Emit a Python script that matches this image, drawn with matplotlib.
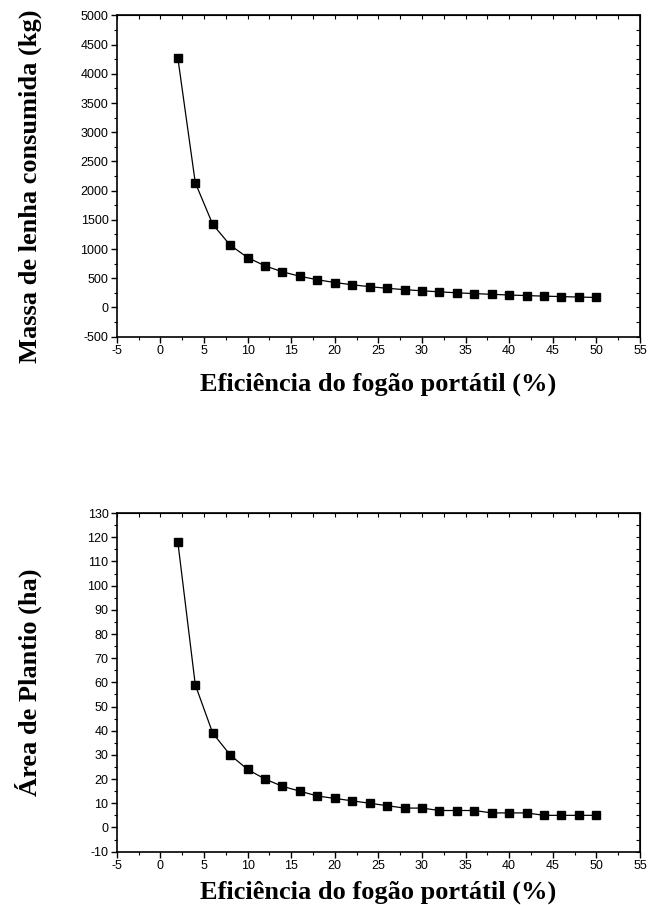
# Massa de lenha e area de plantio vs eficiencia do fogao portatil
import matplotlib
matplotlib.use("Agg")
import matplotlib.pyplot as plt
from matplotlib.ticker import MultipleLocator

plt.rcParams["axes.unicode_minus"] = False

eficiencia = [2, 4, 6, 8, 10, 12, 14, 16, 18, 20, 22, 24, 26, 28, 30,
              32, 34, 36, 38, 40, 42, 44, 46, 48, 50]
massa_lenha = [4270, 2135, 1423, 1067, 854, 712, 610, 534, 474, 427, 388, 356, 328,
               305, 285, 267, 251, 237, 225, 213, 203, 194, 186, 178, 171]
area_plantio = [118, 59, 39, 30, 24, 20, 17, 15, 13, 12, 11, 10, 9,
                8, 8, 7, 7, 7, 6, 6, 6, 5, 5, 5, 5]

xlabel = "Eficiência do fogão portátil (%)"

tick_font = "Liberation Sans"
label_font = {"family": "Liberation Serif", "weight": "bold", "size": 19}

fig = plt.figure(figsize=(6.49, 9.05), dpi=100)
ax1 = fig.add_axes([0.180, 0.628, 0.806, 0.355])
ax2 = fig.add_axes([0.180, 0.059, 0.806, 0.374])

def style(ax, ylim, ymaj, ymin, ylabel, ylab_y=0.5, xpad=6):
    ax.set_xlim(-5, 55)
    ax.set_ylim(*ylim)
    ax.xaxis.set_major_locator(MultipleLocator(5))
    ax.xaxis.set_minor_locator(MultipleLocator(2.5))
    ax.yaxis.set_major_locator(MultipleLocator(ymaj))
    ax.yaxis.set_minor_locator(MultipleLocator(ymin))
    ax.tick_params(which="major", direction="out", length=4, width=1, labelsize=9,
                   pad=2)
    ax.tick_params(which="minor", direction="out", length=2.5, width=0.8)
    for lab in ax.get_xticklabels() + ax.get_yticklabels():
        lab.set_fontfamily(tick_font)
    for sp in ax.spines.values():
        sp.set_linewidth(1.2)
    # ticks inward on top and right, no labels
    top = ax.secondary_xaxis("top")
    top.xaxis.set_major_locator(MultipleLocator(2.5))
    top.tick_params(direction="in", length=3, width=0.8, labeltop=False)
    right = ax.secondary_yaxis("right")
    right.yaxis.set_major_locator(MultipleLocator(ymin))
    right.tick_params(direction="in", length=3, width=0.8, labelright=False)
    ax.set_xlabel(xlabel, fontdict=label_font, labelpad=xpad)
    ax.set_ylabel(ylabel, fontdict=label_font)
    ax.yaxis.set_label_coords(-0.143, ylab_y)

ax1.plot(eficiencia, massa_lenha, color="black", lw=0.9, marker="s", markersize=6)
style(ax1, (-500, 5000), 500, 250, "Massa de lenha consumida (kg)", 0.467, xpad=11)

ax2.plot(eficiencia, area_plantio, color="black", lw=0.9, marker="s", markersize=6)
style(ax2, (-10, 130), 10, 5, "Área de Plantio (ha)")

fig.savefig("out.png", dpi=100)
